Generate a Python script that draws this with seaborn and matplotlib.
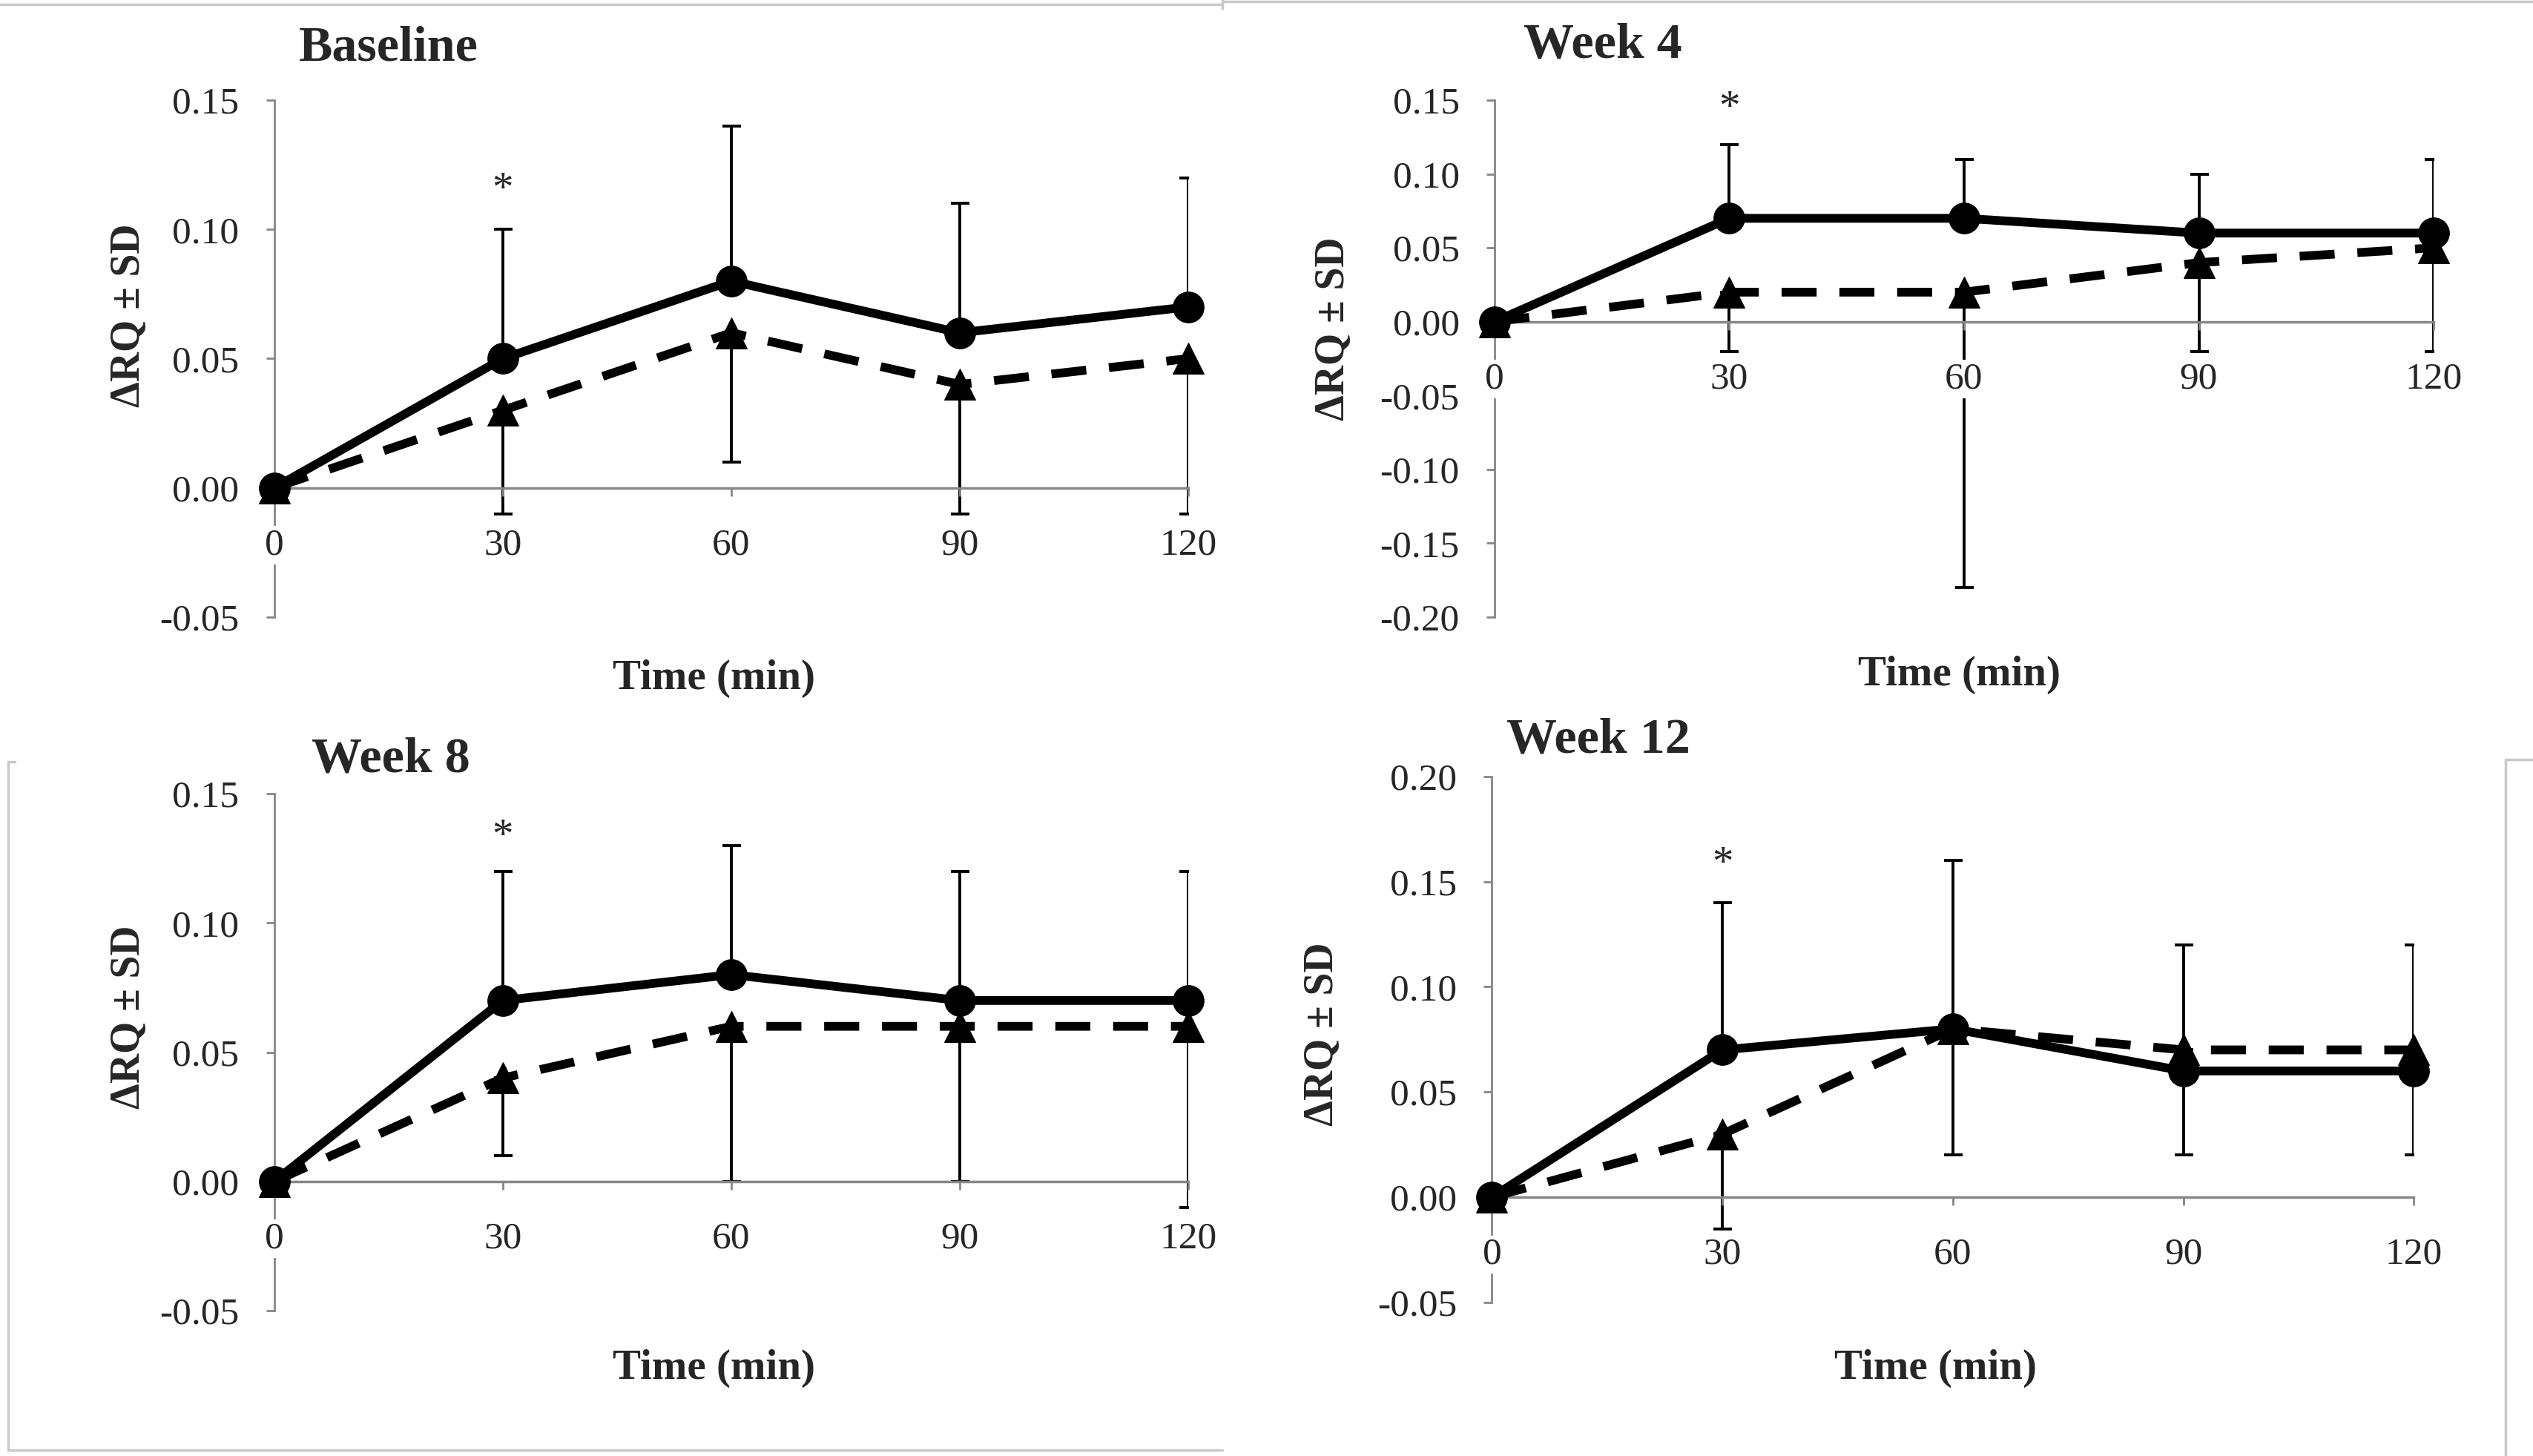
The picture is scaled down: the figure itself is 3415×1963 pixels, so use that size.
import numpy as np
import pandas as pd
import seaborn as sns
import matplotlib.pyplot as plt
from matplotlib.lines import Line2D

# time points (min)
time_min = [0, 30, 60, 90, 120]
panel_titles = ["Baseline", "Week 4", "Week 8", "Week 12"]

# solid series (circles) and its upper SD
baseline_circle = [0.00, 0.05, 0.08, 0.06, 0.07]
week4_circle = [0.00, 0.07, 0.07, 0.06, 0.06]
week8_circle = [0.00, 0.07, 0.08, 0.07, 0.07]
week12_circle = [0.00, 0.07, 0.08, 0.06, 0.06]

baseline_sd_up = [0.00, 0.05, 0.06, 0.05, 0.05]
week4_sd_up = [0.00, 0.05, 0.04, 0.04, 0.05]
week8_sd_up = [0.00, 0.05, 0.05, 0.05, 0.05]
week12_sd_up = [0.00, 0.07, 0.08, 0.06, 0.06]

# dashed series (triangles) and its lower SD
baseline_triangle = [0.00, 0.03, 0.06, 0.04, 0.05]
week4_triangle = [0.00, 0.02, 0.02, 0.04, 0.05]
week8_triangle = [0.00, 0.04, 0.06, 0.06, 0.06]
week12_triangle = [0.00, 0.03, 0.08, 0.07, 0.07]

baseline_sd_down = [0.00, 0.04, 0.05, 0.05, 0.06]
week4_sd_down = [0.00, 0.04, 0.20, 0.06, 0.07]
week8_sd_down = [0.00, 0.03, 0.06, 0.06, 0.07]
week12_sd_down = [0.00, 0.045, 0.06, 0.05, 0.05]

# y range per panel
y_limits = [(-0.05, 0.15), (-0.20, 0.15), (-0.05, 0.15), (-0.05, 0.20)]
# height of the significance asterisk at 30 min
star_y = [0.115, 0.144, 0.133, 0.158]

circles = [baseline_circle, week4_circle, week8_circle, week12_circle]
triangles = [baseline_triangle, week4_triangle, week8_triangle, week12_triangle]
sds_up = [baseline_sd_up, week4_sd_up, week8_sd_up, week12_sd_up]
sds_down = [baseline_sd_down, week4_sd_down, week8_sd_down, week12_sd_down]

sns.set_style("white")
plt.rcParams["font.family"] = ["Liberation Serif", "DejaVu Serif"]

fig = plt.figure(figsize=(34.15, 19.63), dpi=100)

# axes boxes [left, bottom, width, height] in figure fraction
boxes = [
    [0.1083, 0.5762, 0.3608, 0.3550],
    [0.5900, 0.5762, 0.3708, 0.3550],
    [0.1083, 0.0998, 0.3608, 0.3551],
    [0.5890, 0.1055, 0.3640, 0.3613],
]
title_pos = [(0.027, 1.10), (0.031, 1.106), (0.041, 1.066), (0.016, 1.068)]
ylabel_pos = [(-0.138, 0.584), (-0.151, 0.558), (-0.138, 0.568), (-0.163, 0.51)]
xlabel_pos = [(0.481, -0.082), (0.495, -0.074), (0.481, -0.074), (0.481, -0.088)]

grey = "#868686"
tick_fs = 37
label_fs = 41

for i in range(4):
    ax = fig.add_axes(boxes[i])
    t = np.array(time_min)
    c = np.array(circles[i])
    tr = np.array(triangles[i])
    up = np.array(sds_up[i])
    dn = np.array(sds_down[i])

    # one-sided SD bars: up on the circle series, down on the triangle series
    m = t > 0
    ax.errorbar(t[m], c[m], yerr=[np.zeros(m.sum()), up[m]], fmt="none",
                ecolor="black", elinewidth=2.8, capsize=9, capthick=2.8, zorder=1)
    ax.errorbar(t[m], tr[m], yerr=[dn[m], np.zeros(m.sum())], fmt="none",
                ecolor="black", elinewidth=2.8, capsize=9, capthick=2.8, zorder=1)

    df = pd.DataFrame({
        "time": np.concatenate([t, t]),
        "rq": np.concatenate([c, tr]),
        "group": ["circle"] * len(t) + ["triangle"] * len(t),
    })
    sns.lineplot(data=df, x="time", y="rq", style="group",
                 style_order=["circle", "triangle"],
                 markers={"circle": "o", "triangle": "^"},
                 dashes={"circle": "", "triangle": (4, 2.6)},
                 color="black", lw=8.5, markersize=30, markeredgecolor="black",
                 legend=False, ax=ax, clip_on=False, zorder=3)

    ax.set_xlim(0, 120)
    ax.set_ylim(*y_limits[i])
    ax.set_xticks(time_min)
    ax.set_xticklabels([str(v) for v in time_min])
    lo, hi = y_limits[i]
    yt = np.round(np.arange(lo, hi + 0.001, 0.05), 2) + 0.0
    ax.set_yticks(yt)
    ax.set_yticklabels([f"{v:.2f}".replace("-0.00", "0.00") for v in yt])

    for s in ["top", "right"]:
        ax.spines[s].set_visible(False)
    ax.spines["left"].set_color(grey)
    ax.spines["left"].set_linewidth(2)
    ax.spines["bottom"].set_color(grey)
    ax.spines["bottom"].set_linewidth(2.5)
    ax.spines["bottom"].set_position(("data", 0))

    ax.tick_params(axis="y", direction="out", length=8, width=2, color=grey,
                   labelsize=tick_fs, pad=26, left=True)
    ax.tick_params(axis="x", direction="out", length=8, width=2, color=grey,
                   labelsize=tick_fs, pad=31, bottom=True)
    for lab in ax.get_xticklabels():
        lab.set_bbox(dict(facecolor="white", edgecolor="none", pad=2))
    ax.xaxis.set_zorder(2.6)

    ax.set_xlabel("Time (min)", fontsize=label_fs, fontweight="bold")
    ax.xaxis.set_label_coords(*xlabel_pos[i])
    ax.set_ylabel("ΔRQ ± SD", fontsize=label_fs - 1, fontweight="bold")
    ax.yaxis.set_label_coords(*ylabel_pos[i])

    ax.text(title_pos[i][0], title_pos[i][1], panel_titles[i], transform=ax.transAxes,
            fontsize=49, fontweight="bold", ha="left", va="center")
    ax.text(30, star_y[i], "*", fontsize=tick_fs + 4, ha="center", va="center")
    ax.patch.set_alpha(0)

# faint frame lines from the original page
frame = "#c9c9c9"
W, H = 3415, 1963
segs = [
    ((0, 1648), (6, 6)), ((1648, 1648), (0, 12)), ((1650, 3415), (2, 2)),
    ((11, 11), (1027, 1955)), ((11, 1648), (1955, 1955)), ((11, 20), (1027, 1027)),
    ((3378, 3378), (1024, 1963)), ((3378, 3415), (1024, 1024)),
]
for xs, ys in segs:
    fig.add_artist(Line2D([x / W for x in xs], [1 - y / H for y in ys],
                          color=frame, lw=2.5, transform=fig.transFigure))

fig.savefig("out.png", dpi=100)
